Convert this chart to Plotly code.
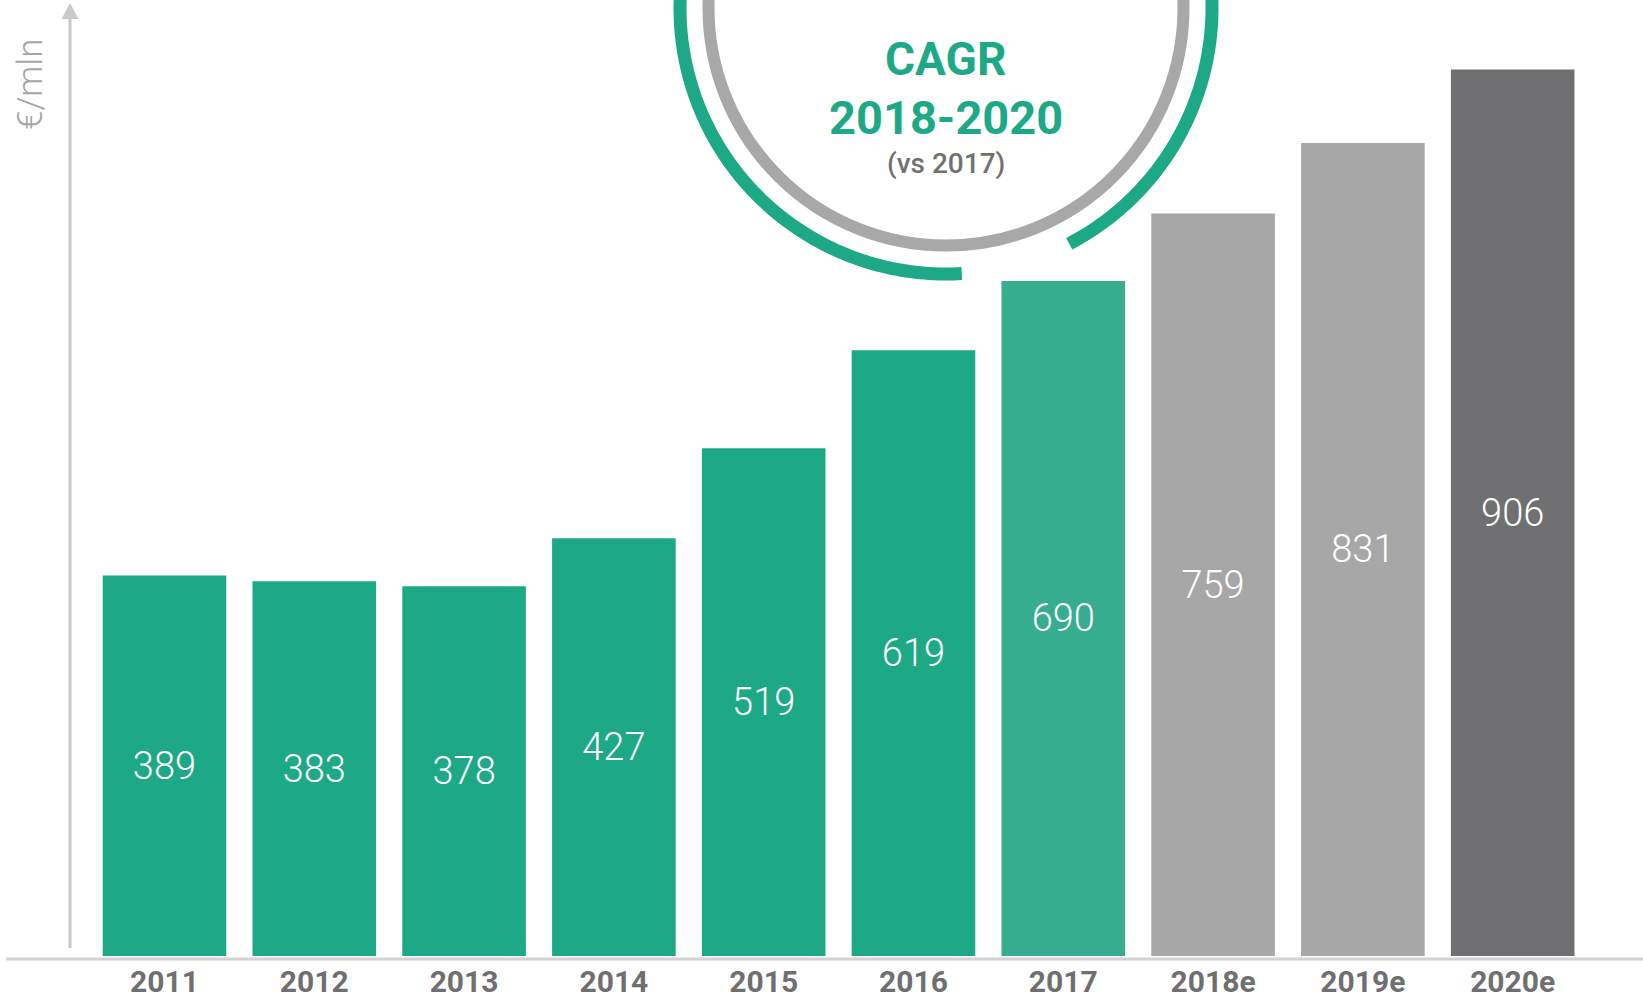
import math
import plotly.graph_objects as go

# ---- data ----
years = ["2011", "2012", "2013", "2014", "2015", "2016", "2017", "2018e", "2019e", "2020e"]
values = [389, 383, 378, 427, 519, 619, 690, 759, 831, 906]
bar_colors = ["#1da886", "#1da886", "#1da886", "#1da886", "#1da886", "#1da886",
              "#35ad8e", "#a7a7a7", "#a7a7a7", "#707072"]
unit_label = "€/mln"
cagr_title = "CAGR"
cagr_period = "2018-2020"
cagr_note = "(vs 2017)"

W, H = 1643, 1000
MB = 44
PH = H - MB  # plot area height in px


def px(x):
    return x / W


def py(y):
    return (PH - y) / PH


fig = go.Figure()
fig.add_trace(go.Bar(
    x=years, y=values,
    marker=dict(color=bar_colors, line=dict(width=0)),
    text=[str(v) for v in values],
    texttemplate="%{text}",
    textposition="inside",
    insidetextanchor="middle",
    textangle=0,
    textfont=dict(family="Roboto", size=38, color="white", weight=300),
    hoverinfo="skip",
))

shapes = []
# horizontal base line
shapes.append(dict(type="line", xref="paper", yref="paper",
                   x0=px(6), x1=px(W), y0=py(959), y1=py(959),
                   line=dict(color="#d2d2d2", width=3)))
# vertical axis arrow
shapes.append(dict(type="line", xref="paper", yref="paper",
                   x0=px(70), x1=px(70), y0=py(948), y1=py(17),
                   line=dict(color="#c9c9c9", width=3)))
shapes.append(dict(type="path", xref="paper", yref="paper",
                   path=f"M {px(70)},{py(3)} L {px(61.5)},{py(19)} L {px(78.5)},{py(19)} Z",
                   fillcolor="#c9c9c9", line=dict(width=0)))
# gray ring
cx, cy = 946, 8
Rg = 237.5
shapes.append(dict(type="circle", xref="paper", yref="paper",
                   x0=px(cx - Rg), x1=px(cx + Rg), y0=py(cy + Rg), y1=py(cy - Rg),
                   line=dict(color="#a9a8a9", width=12)))
# green partial ring
Rr = 266
pts = []
a = 86.6
while a <= 422.4:
    t = math.radians(a)
    pts.append((cx + Rr * math.cos(t), cy + Rr * math.sin(t)))
    a += 1.0
t = math.radians(422.4)
pts.append((cx + Rr * math.cos(t), cy + Rr * math.sin(t)))
path = "M " + " L ".join(f"{px(x):.5f},{py(y):.5f}" for x, y in pts)
shapes.append(dict(type="path", xref="paper", yref="paper", path=path,
                   line=dict(color="#1da886", width=13)))

annotations = [
    dict(text=unit_label, xref="paper", yref="paper", x=px(30), y=py(85),
         showarrow=False, textangle=-90, xanchor="center", yanchor="middle",
         font=dict(family="Roboto", size=35, color="#a5a5a5", weight=300)),
    dict(text=cagr_title, xref="paper", yref="paper", x=px(946), y=py(59),
         showarrow=False, xanchor="center", yanchor="middle",
         font=dict(family="Roboto", size=46, color="#1da886", weight="bold")),
    dict(text=cagr_period, xref="paper", yref="paper", x=px(946), y=py(117),
         showarrow=False, xanchor="center", yanchor="middle",
         font=dict(family="Roboto", size=47, color="#1da886", weight="bold")),
    dict(text=cagr_note, xref="paper", yref="paper", x=px(946), y=py(164),
         showarrow=False, xanchor="center", yanchor="middle",
         font=dict(family="Roboto", size=28, color="#717171", weight=500)),
]

fig.update_layout(
    width=W, height=H,
    margin=dict(l=0, r=0, t=0, b=MB, pad=0, autoexpand=False),
    paper_bgcolor="white", plot_bgcolor="white",
    bargap=0.175,
    showlegend=False,
    shapes=shapes,
    annotations=annotations,
    xaxis=dict(type="category", range=[-1.098, 9.870], showgrid=False, zeroline=False,
               showline=False, ticks="", ticklabelstandoff=5, automargin=False,
               tickfont=dict(family="Roboto", size=30, color="#6f6f71", weight="bold"),
               fixedrange=True),
    yaxis=dict(range=[0, PH / 0.9784], visible=False, showgrid=False, zeroline=False,
               automargin=False, fixedrange=True),
)

fig.write_html("out.html", config={"displayModeBar": False},
               post_script="document.body.style.margin='0';document.body.style.overflow='hidden';")
